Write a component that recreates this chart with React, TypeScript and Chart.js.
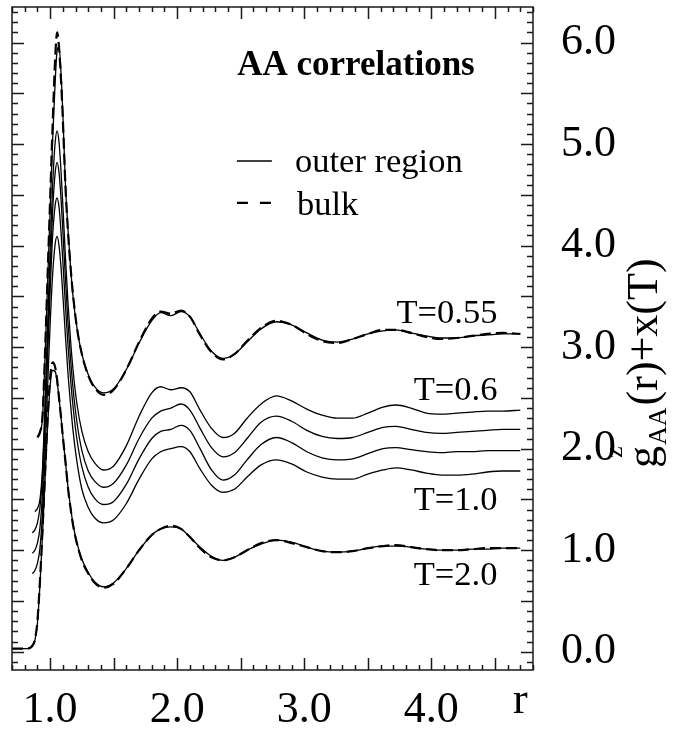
import React, { useEffect, useRef } from 'react';
import { Chart, registerables } from 'chart.js';

Chart.register(...registerables);

// r grid shared by every curve
const R = [
  0.70, 0.76, 0.82, 0.86, 0.88, 0.90, 0.92, 0.94, 0.96, 0.98,
  1.00, 1.02, 1.04, 1.055, 1.07, 1.085, 1.10, 1.12, 1.14, 1.16,
  1.18, 1.21, 1.25, 1.30, 1.35, 1.42, 1.50, 1.60, 1.70, 1.80,
  1.87, 1.95, 2.03, 2.10, 2.18, 2.27, 2.36, 2.45, 2.55, 2.66,
  2.78, 2.90, 3.02, 3.14, 3.26, 3.38, 3.50, 3.62, 3.72, 3.84,
  3.96, 4.08, 4.20, 4.32, 4.44, 4.56, 4.70,
];

// g_AA(r) + x(T), T = 0.55, bulk (dashed)
const T055_BULK = [
  null, null, null, null, null, 2.11, 2.16, 2.32, 2.95, 3.70,
  4.45, 5.20, 5.85, 6.10, 5.95, 5.65, 5.25, 4.60, 4.15, 3.80,
  3.52, 3.20, 2.93, 2.72, 2.60, 2.53, 2.58, 2.78, 3.05, 3.28,
  3.35, 3.33, 3.36, 3.30, 3.12, 2.95, 2.88, 2.93, 3.06, 3.19,
  3.26, 3.22, 3.13, 3.06, 3.04, 3.08, 3.13, 3.17, 3.17, 3.14,
  3.10, 3.08, 3.09, 3.11, 3.13, 3.14, 3.13,
];
// T = 0.55, outer region (solid)
const T055_OUTER = [
  null, null, null, null, null, 2.12, 2.17, 2.30, 2.90, 3.62,
  4.35, 5.05, 5.62, 5.92, 5.96, 5.72, 5.30, 4.62, 4.17, 3.80,
  3.50, 3.20, 2.93, 2.73, 2.61, 2.55, 2.59, 2.78, 3.04, 3.26,
  3.34, 3.31, 3.35, 3.30, 3.13, 2.96, 2.89, 2.93, 3.05, 3.18,
  3.25, 3.22, 3.14, 3.07, 3.05, 3.08, 3.13, 3.16, 3.17, 3.14,
  3.11, 3.09, 3.09, 3.11, 3.12, 3.13, 3.13,
];
// T = 0.6, outer region
const T06_OUTER = [
  null, null, null, null, 1.38, 1.41, 1.50, 1.80, 2.45, 3.20,
  3.95, 4.60, 5.02, 5.13, 5.02, 4.75, 4.40, 3.90, 3.45, 3.08,
  2.78, 2.45, 2.17, 1.97, 1.86, 1.79, 1.83, 2.03, 2.32, 2.55,
  2.61, 2.58, 2.60, 2.56, 2.38, 2.20, 2.11, 2.15, 2.30, 2.44,
  2.52, 2.47, 2.39, 2.33, 2.30, 2.30, 2.35, 2.41, 2.43, 2.40,
  2.35, 2.34, 2.35, 2.36, 2.37, 2.37, 2.38,
];
// intermediate temperature, outer region
const TMID1_OUTER = [
  null, null, null, 1.17, 1.20, 1.27, 1.42, 1.75, 2.35, 3.05,
  3.75, 4.35, 4.72, 4.82, 4.72, 4.48, 4.15, 3.68, 3.25, 2.90,
  2.60, 2.27, 1.98, 1.78, 1.68, 1.62, 1.66, 1.84, 2.10, 2.30,
  2.37, 2.40, 2.44, 2.38, 2.20, 2.01, 1.92, 1.96, 2.10, 2.26,
  2.32, 2.27, 2.18, 2.12, 2.10, 2.11, 2.16, 2.21, 2.22, 2.19,
  2.16, 2.15, 2.16, 2.17, 2.18, 2.19, 2.19,
];
// intermediate temperature, outer region
const TMID2_OUTER = [
  null, null, null, 0.97, 1.00, 1.07, 1.22, 1.57, 2.20, 2.90,
  3.55, 4.10, 4.40, 4.47, 4.38, 4.15, 3.85, 3.42, 3.03, 2.70,
  2.42, 2.10, 1.82, 1.62, 1.51, 1.45, 1.48, 1.65, 1.90, 2.10,
  2.17, 2.19, 2.23, 2.18, 2.00, 1.79, 1.69, 1.74, 1.89, 2.04,
  2.11, 2.06, 1.97, 1.91, 1.89, 1.90, 1.95, 2.00, 2.01, 1.99,
  1.97, 1.96, 1.97, 1.97, 1.98, 1.98, 1.98,
];
// T = 1.0, outer region
const T10_OUTER = [
  null, null, null, 0.77, 0.80, 0.87, 1.02, 1.37, 1.95, 2.60,
  3.22, 3.72, 4.02, 4.09, 4.00, 3.80, 3.52, 3.12, 2.75, 2.45,
  2.18, 1.88, 1.60, 1.42, 1.32, 1.27, 1.30, 1.46, 1.70, 1.90,
  1.97, 2.00, 2.02, 1.97, 1.80, 1.64, 1.57, 1.60, 1.72, 1.84,
  1.89, 1.85, 1.77, 1.72, 1.70, 1.70, 1.75, 1.79, 1.81, 1.79,
  1.76, 1.74, 1.74, 1.75, 1.77, 1.78, 1.78,
];
// T = 2.0, bulk (dashed)
const T20_BULK = [
  0.03, 0.03, 0.03, 0.06, 0.12, 0.30, 0.70, 1.20, 1.75, 2.30,
  2.70, 2.85, 2.80, 2.68, 2.50, 2.32, 2.12, 1.88, 1.62, 1.42,
  1.25, 1.07, 0.90, 0.77, 0.68, 0.63, 0.67, 0.82, 1.00, 1.15,
  1.21, 1.24, 1.21, 1.13, 1.02, 0.93, 0.90, 0.93, 1.00, 1.07,
  1.10, 1.07, 1.03, 0.99, 0.98, 0.99, 1.02, 1.04, 1.05, 1.03,
  1.01, 1.00, 1.00, 1.01, 1.02, 1.02, 1.02,
];
// T = 2.0, outer region
const T20_OUTER = [
  0.03, 0.03, 0.03, 0.05, 0.11, 0.28, 0.66, 1.15, 1.70, 2.22,
  2.62, 2.77, 2.76, 2.66, 2.50, 2.32, 2.12, 1.88, 1.63, 1.43,
  1.26, 1.08, 0.91, 0.78, 0.69, 0.64, 0.68, 0.82, 1.00, 1.15,
  1.21, 1.23, 1.21, 1.13, 1.03, 0.94, 0.90, 0.93, 1.00, 1.06,
  1.10, 1.08, 1.03, 0.99, 0.98, 0.99, 1.02, 1.04, 1.04, 1.03,
  1.01, 1.00, 1.00, 1.01, 1.01, 1.02, 1.02,
];

const X_TICKS = [1, 2, 3, 4];
const Y_TICKS = [0, 1, 2, 3, 4, 5, 6];
const CURVE_LABELS = ['T=0.55', 'T=0.6', 'T=1.0', 'T=2.0'];
const CURVE_LABEL_ANCHORS = [[4.52, 3.24], [4.52, 2.48], [4.52, 1.40], [4.52, 0.66]];
const TITLE = 'AA correlations';
const LEGEND_LABELS = ['outer region', 'bulk'];

const SERIF = '"Liberation Serif", "Times New Roman", Times, serif';

function pts(arr: (number | null)[]) {
  const out: { x: number; y: number }[] = [];
  R.forEach((r, i) => {
    const v = arr[i];
    if (v !== null && v !== undefined) out.push({ x: r, y: v });
  });
  return out;
}

const solid = (data: (number | null)[]) => ({
  data: pts(data),
  borderColor: '#000',
  borderWidth: 1.3,
  pointRadius: 0,
  fill: false,
  cubicInterpolationMode: 'monotone' as const,
});
const dashed = (data: (number | null)[]) => ({
  data: pts(data),
  borderColor: '#000',
  borderWidth: 2.2,
  borderDash: [11, 5],
  pointRadius: 0,
  fill: false,
  cubicInterpolationMode: 'monotone' as const,
});

const framePlugin = {
  id: 'frameTicks',
  afterDraw(chart: any) {
    const { ctx, chartArea } = chart;
    const { left, right, top, bottom } = chartArea;
    const xs = chart.scales.x;
    const ys = chart.scales.y;
    ctx.save();
    ctx.strokeStyle = '#1a1a1a';
    ctx.lineWidth = 1.5;
    ctx.strokeRect(left, top, right - left, bottom - top);
    ctx.beginPath();
    for (let k = Math.ceil(xs.min * 10 - 1e-6); k <= Math.floor(xs.max * 10 + 1e-6); k++) {
      const px = Math.round(xs.getPixelForValue(k / 10)) + 0.5;
      const len = k % 5 === 0 ? 12 : 5;
      ctx.moveTo(px, bottom);
      ctx.lineTo(px, bottom - len);
      ctx.moveTo(px, top);
      ctx.lineTo(px, top + len);
    }
    for (let k = Math.ceil(ys.min * 10 - 1e-6); k <= Math.floor(ys.max * 10 + 1e-6); k++) {
      const py = Math.round(ys.getPixelForValue(k / 10)) + 0.5;
      const len = k % 5 === 0 ? 12 : 6;
      ctx.moveTo(left, py);
      ctx.lineTo(left + len, py);
      ctx.moveTo(right, py);
      ctx.lineTo(right - len, py);
    }
    ctx.stroke();

    const P = (r: number, v: number) => [xs.getPixelForValue(r), ys.getPixelForValue(v)];
    ctx.fillStyle = '#000';
    ctx.strokeStyle = '#000';

    // title
    ctx.font = `bold 35px ${SERIF}`;
    ctx.textAlign = 'center';
    ctx.textBaseline = 'alphabetic';
    const [tx, ty] = P(3.407, 5.68);
    ctx.fillText(TITLE, tx, ty);

    // legend
    ctx.lineWidth = 1.3;
    const [l1x0, l1y] = P(2.47, 4.833);
    const [l1x1] = P(2.745, 4.833);
    ctx.beginPath();
    ctx.moveTo(l1x0, l1y);
    ctx.lineTo(l1x1, l1y);
    ctx.stroke();
    ctx.lineWidth = 2.2;
    ctx.setLineDash([11, 12]);
    const l2y = P(2.47, 4.42)[1];
    ctx.beginPath();
    ctx.moveTo(l1x0, l2y);
    ctx.lineTo(l1x1, l2y);
    ctx.stroke();
    ctx.setLineDash([]);
    ctx.font = `34.5px ${SERIF}`;
    ctx.textAlign = 'left';
    const [ox, oy] = P(2.927, 4.725);
    ctx.fillText(LEGEND_LABELS[0], ox, oy);
    const [bx, by] = P(2.943, 4.30);
    ctx.fillText(LEGEND_LABELS[1], bx, by);

    // curve labels
    ctx.font = `34.5px ${SERIF}`;
    ctx.textAlign = 'right';
    CURVE_LABELS.forEach((s, i) => {
      const [cx, cy] = P(CURVE_LABEL_ANCHORS[i][0], CURVE_LABEL_ANCHORS[i][1]);
      ctx.fillText(s, cx, cy);
    });

    // x-axis name
    ctx.font = `44px ${SERIF}`;
    ctx.textAlign = 'center';
    ctx.fillText('r', xs.getPixelForValue(4.7), bottom + 43);

    // y-axis title, rotated
    ctx.save();
    ctx.translate(right + 124, ys.getPixelForValue(1.81));
    ctx.rotate(-Math.PI / 2);
    ctx.textAlign = 'left';
    ctx.font = `44px ${SERIF}`;
    ctx.fillText('g', 0, 0);
    const gw = ctx.measureText('g').width;
    ctx.font = `26px ${SERIF}`;
    ctx.fillText('z', gw - 12, -35);
    ctx.fillText('AA', gw + 1, 9);
    const aw = ctx.measureText('AA').width;
    ctx.font = `44px ${SERIF}`;
    ctx.fillText('(r)+x(T)', gw + aw + 3, 0);
    ctx.restore();

    ctx.restore();
  },
};

const zeroPad = (s: any) => {
  s.paddingTop = 0;
  s.paddingBottom = 0;
  s.paddingLeft = 0;
  s.paddingRight = 0;
};

export default function App() {
  const ref = useRef<HTMLCanvasElement | null>(null);
  useEffect(() => {
    if (!ref.current) return;
    const tickFont = { family: SERIF, size: 44 };
    const chart = new Chart(ref.current, {
      type: 'line',
      data: {
        datasets: [
          dashed(T055_BULK),
          dashed(T20_BULK),
          solid(T055_OUTER),
          solid(T06_OUTER),
          solid(TMID1_OUTER),
          solid(TMID2_OUTER),
          solid(T10_OUTER),
          solid(T20_OUTER),
        ] as any,
      },
      options: {
        animation: false,
        responsive: false,
        maintainAspectRatio: false,
        events: [],
        layout: { padding: { left: 12, top: 7, right: 0, bottom: 0 } },
        plugins: { legend: { display: false }, tooltip: { enabled: false } },
        scales: {
          x: {
            type: 'linear',
            position: 'bottom',
            min: 0.7,
            max: 4.8,
            grid: { display: false, drawTicks: false },
            border: { display: false },
            afterBuildTicks: (s: any) => {
              s.ticks = X_TICKS.map((v) => ({ value: v }));
            },
            afterFit: (s: any) => {
              s.height = 63;
              zeroPad(s);
            },
            ticks: {
              autoSkip: false,
              maxRotation: 0,
              padding: 14,
              color: '#000',
              font: tickFont,
              callback: (v: any) => Number(v).toFixed(1),
            },
          },
          y: {
            type: 'linear',
            position: 'right',
            min: -0.18,
            max: 6.35,
            grid: { display: false, drawTicks: false },
            border: { display: false },
            afterBuildTicks: (s: any) => {
              s.ticks = Y_TICKS.map((v) => ({ value: v }));
            },
            afterFit: (s: any) => {
              s.width = 147;
              zeroPad(s);
            },
            ticks: {
              autoSkip: false,
              padding: 28,
              color: '#000',
              font: tickFont,
              callback: (v: any) => Number(v).toFixed(1),
            },
          },
        },
      } as any,
      plugins: [framePlugin],
    });
    return () => chart.destroy();
  }, []);
  return (
    <div style={{ position: 'fixed', left: 0, top: 0, width: 680, height: 733, background: '#fff' }}>
      <canvas ref={ref} width={680} height={733} style={{ display: 'block', width: 680, height: 733 }} />
    </div>
  );
}
